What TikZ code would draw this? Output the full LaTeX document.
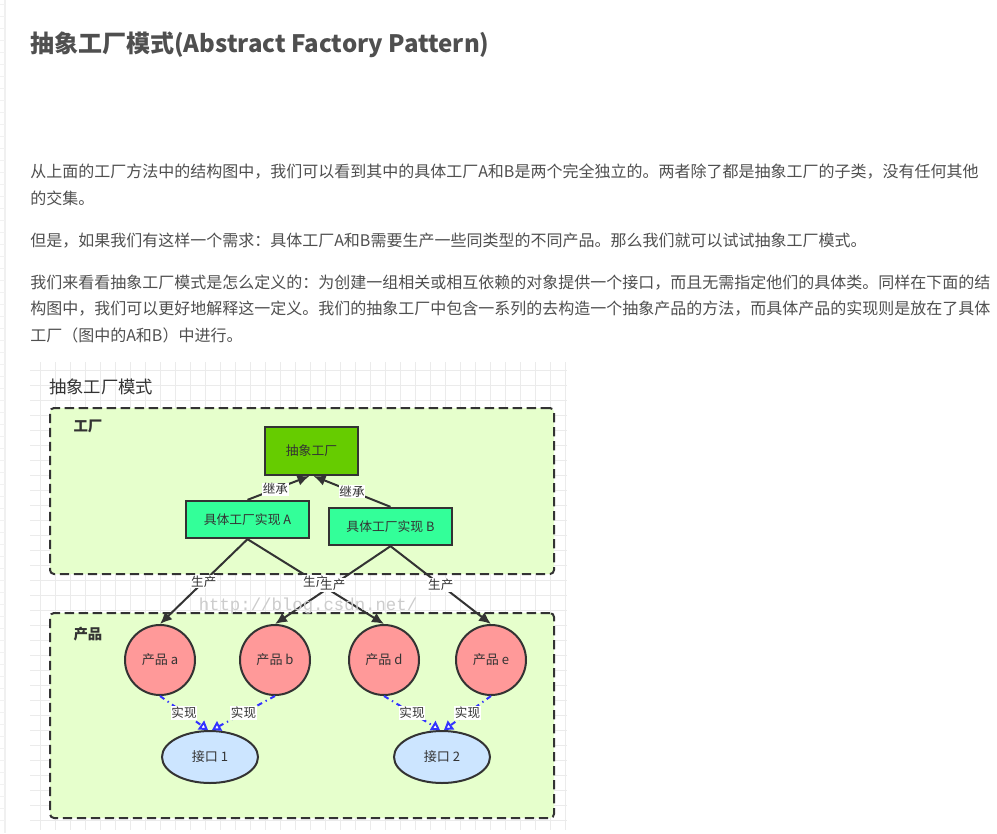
\documentclass[tikz,border=0pt]{standalone}
\usepackage{fontspec}
\setmainfont{Noto Sans CJK SC}
\newfontfamily\wmfont{Liberation Mono}
\usetikzlibrary{arrows.meta,shapes.geometric}
\definecolor{txt}{HTML}{4F4F4F}
\definecolor{dk}{HTML}{333333}
\definecolor{cont}{HTML}{E6FFCC}
\definecolor{absc}{HTML}{66CC00}
\definecolor{conc}{HTML}{33FF99}
\definecolor{prodc}{HTML}{FF9999}
\definecolor{ifc}{HTML}{CCE5FF}
\definecolor{blueline}{HTML}{3333FF}
\definecolor{gridc}{HTML}{EBEBEB}
\tikzset{
  body/.style={anchor=west, inner sep=0, text=txt, font=\fontsize{12pt}{12pt}\selectfont},
  container/.style={draw=dk, fill=cont, line width=1.5pt, dash pattern=on 7pt off 3.5pt, rounded corners=3pt, inner sep=0},
  grouplbl/.style={inner sep=0, text=dk, font=\bfseries\fontsize{10.8pt}{11pt}\selectfont},
  fbox/.style={draw=dk, line width=1.5pt, inner sep=0, text=dk, font=\fontsize{9.6pt}{10pt}\selectfont},
  prod/.style={circle, draw=dk, fill=prodc, line width=1.5pt, minimum size=52.5pt, inner sep=0, text=dk, font=\fontsize{9.8pt}{10pt}\selectfont},
  iface/.style={ellipse, draw=dk, fill=ifc, line width=1.5pt, minimum width=72pt, minimum height=39pt, inner sep=0, text=dk, font=\fontsize{9.8pt}{10pt}\selectfont},
  solidarrow/.style={draw=dk, line width=1.5pt, -{Latex[length=9pt,width=8pt]}},
  realarrow/.style={draw=blueline, line width=1.5pt, dash pattern=on 4pt off 3pt on 1pt off 3pt, -{Triangle[fill=white,length=6.5pt,width=8pt]}},
  lbl/.style={fill=white, inner sep=0.6pt, text=dk, font=\fontsize{9.4pt}{10pt}\selectfont},
  gridline/.style={draw=gridc, line width=0.6pt}
}
\begin{document}
\begin{tikzpicture}[x=0.75pt,y=-0.75pt]
\useasboundingbox (0,0) rectangle (997,833);
\fill[white] (0,0) rectangle (997,833);
% page edge marks
\draw[gray!12, line width=0.8pt] (5,0) -- (5,833);
\foreach \ty in {4,16,...,830} \draw[gray!10, line width=0.6pt] (0,\ty) -- (5,\ty);

% title and text
\node[anchor=west, inner sep=0, text=txt, font=\bfseries\fontsize{18pt}{18pt}\selectfont] (title) at (30,45) {抽象工厂模式(Abstract Factory Pattern)};
\node[body] (p1a) at (30,172) {从上面的工厂方法中的结构图中，我们可以看到其中的具体工厂A和B是两个完全独立的。两者除了都是抽象工厂的子类，没有任何其他};
\node[body] (p1b) at (30,198) {的交集。};
\node[body] (p2) at (30,241) {但是，如果我们有这样一个需求：具体工厂A和B需要生产一些同类型的不同产品。那么我们就可以试试抽象工厂模式。};
\node[body] (p3a) at (30,283) {我们来看看抽象工厂模式是怎么定义的：为创建一组相关或相互依赖的对象提供一个接口，而且无需指定他们的具体类。同样在下面的结};
\node[body] (p3b) at (30,309) {构图中，我们可以更好地解释这一定义。我们的抽象工厂中包含一系列的去构造一个抽象产品的方法，而具体产品的实现则是放在了具体};
\node[body] (p3c) at (30,335) {工厂（图中的A和B）中进行。};

% grid
\foreach \gx in {40,55,...,565} \draw[gridline] (\gx,362) -- (\gx,830);
\foreach \gy in {370,385,...,829} \draw[gridline] (30,\gy) -- (567,\gy);

% diagram title
\node[anchor=west, inner sep=0, text=dk, font=\fontsize{13pt}{13pt}\selectfont] (dtitle) at (49,387) {抽象工厂模式};

% containers
\node[container, minimum width=378pt, minimum height=124.5pt] (fac) at (302,491) {};
\node[container, minimum width=378pt, minimum height=153.75pt] (prd) at (302,715.5) {};
\node[grouplbl] (faclbl) at (88,426) {工厂};
\node[grouplbl] (prdlbl) at (88,634) {产品};

% factory boxes
\node[fbox, fill=absc, minimum width=69.75pt, minimum height=36pt] (abs) at (311.5,451) {抽象工厂};
\node[fbox, fill=conc, minimum width=92.25pt, minimum height=28pt] (fa) at (247.5,519.5) {具体工厂实现 A};
\node[fbox, fill=conc, minimum width=92.25pt, minimum height=28pt] (fb) at (390.5,526.5) {具体工厂实现 B};

% products
\node[prod] (pa) at (160,660) {产品 a};
\node[prod] (pb) at (275,660) {产品 b};
\node[prod] (pd) at (384,660) {产品 d};
\node[prod] (pe) at (491,660) {产品 e};

% interfaces
\node[iface] (i1) at (210,757) {接口 1};
\node[iface] (i2) at (442,757) {接口 2};

% inheritance
\draw[solidarrow] (fa.north) -- ([xshift=-1.5pt]abs.south) node[lbl, pos=0.45] {继承};
\draw[solidarrow] (fb.north) -- ([xshift=1.5pt]abs.south) node[lbl, pos=0.5] {继承};

% produce
\draw[solidarrow] (fa.south) -- (pa.north) node[lbl, pos=0.5] {生产};
\draw[solidarrow] (fa.south) -- (pd.north) node[lbl, pos=0.5] {生产};
\draw[solidarrow] (fb.south) -- (pb.north) node[lbl, pos=0.5] {生产};
\draw[solidarrow] (fb.south) -- (pe.north) node[lbl, pos=0.5] {生产};

% realization
\draw[realarrow] (pa.south) -- ([xshift=-1.5pt]i1.north) node[lbl, pos=0.5] {实现};
\draw[realarrow] (pb.south) -- ([xshift=1.5pt]i1.north) node[lbl, pos=0.5] {实现};
\draw[realarrow] (pd.south) -- ([xshift=-1.5pt]i2.north) node[lbl, pos=0.5] {实现};
\draw[realarrow] (pe.south) -- ([xshift=1.5pt]i2.north) node[lbl, pos=0.5] {实现};

% watermark
\node[inner sep=0, text=gray!40, font=\wmfont\fontsize{13pt}{13pt}\selectfont] (wm) at (308,606) {http://blog.csdn.net/};
\end{tikzpicture}
\end{document}
